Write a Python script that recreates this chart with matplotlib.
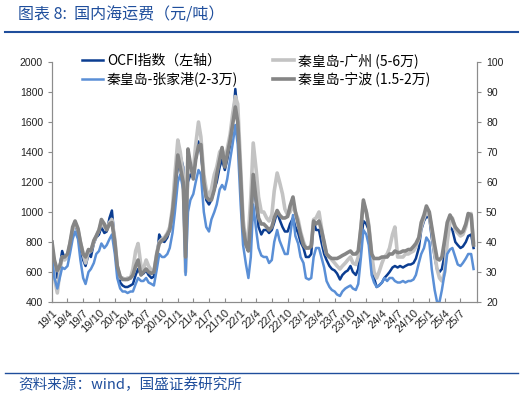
import matplotlib
matplotlib.use('Agg')
import matplotlib.pyplot as plt
from matplotlib.lines import Line2D
import pandas as pd

plt.rcParams['font.family'] = ['Noto Sans CJK SC', 'DejaVu Sans']

# 半月数据，2019/1 - 2025/9
dates = pd.date_range('2019-01-01', periods=162, freq='SMS')

# OCFI指数（左轴，点）
ocfi = [800, 620, 560, 640, 740, 690, 700, 790, 880, 920, 860, 760, 680, 640, 720, 700,
        790, 830, 850, 900, 860, 870, 960, 1010, 800, 640, 530, 510, 500, 500, 510, 520,
        580, 620, 580, 590, 610, 580, 560, 570, 700, 850, 810, 800, 830, 880, 980, 1150,
        1300, 1380, 1300, 700, 1200, 1250, 1230, 1350, 1470, 1400, 1200, 1080, 1050, 1080, 1150, 1200,
        1300, 1350, 1280, 1350, 1450, 1580, 1820, 1650, 1250, 900, 780, 760, 900, 1250, 1050, 900,
        850, 880, 880, 860, 880, 930, 1000, 950, 900, 870, 870, 920, 960, 900, 860, 800,
        760, 700, 700, 720, 940, 880, 880, 800, 720, 680, 640, 620, 610, 590, 550, 580,
        600, 610, 640, 600, 580, 620, 800, 940, 920, 880, 700, 560, 500, 510, 530, 560,
        580, 600, 630, 640, 630, 640, 630, 640, 650, 650, 660, 690, 760, 880, 940, 970,
        960, 830, 700, 620, 600, 620, 720, 850, 900, 880, 800, 780, 760, 770, 800, 840,
        850, 760]

# 右轴（元/吨）
gz = [39, 28, 23, 30, 35, 34, 35, 39.5, 44, 46.5, 44, 40, 36, 33, 37, 37,
      40, 42, 44, 46.5, 45, 44.5, 46.5, 47.5, 41, 32, 28, 28, 27.5, 28, 28, 31,
      37, 39.5, 32, 31, 34, 32, 30.5, 30, 36.5, 40, 41, 41.5, 43, 45, 51.5, 62.5,
      74, 70, 62.5, 30, 67.5, 65, 64, 72.5, 80, 75, 62.5, 57.5, 55, 57.5, 62.5, 65,
      70, 71, 67.5, 71, 76, 82.5, 88.5, 86, 65, 47.5, 40, 42.5, 55, 73, 64, 55,
      50, 50, 48, 47, 49, 57, 63, 60, 56, 51, 49, 50, 52, 50, 47.5, 43.5,
      40, 38, 38, 39, 47.5, 48, 50, 45, 39, 36, 35, 34, 33, 32, 31, 32,
      33, 34, 35, 33, 32.5, 35, 45, 53, 50, 46, 36, 30, 28, 30, 33, 35,
      36, 38, 42.5, 45, 35, 35, 35, 36, 36, 36.5, 37, 38.5, 41, 45, 48, 50,
      49, 44, 36, 31, 28, 27, 30, 40, 46.5, 48, 44, 43, 42, 42.5, 45, 49,
      49.5, 40]

zjg = [35, 28, 24.5, 28, 31.5, 31, 32, 36, 41, 43.5, 41, 34, 28, 26, 30, 31,
       33, 36, 37, 39.5, 38, 39, 41, 42.5, 36, 28, 24.5, 23.5, 23.5, 23, 23.5, 23.5,
       26, 28, 27, 27, 28, 26.5, 26, 25.5, 31, 36, 35, 35, 36, 38, 43, 50,
       60, 62.5, 57.5, 29, 50, 54, 56, 60, 64, 62.5, 50, 45, 43.5, 47.5, 50, 52.5,
       57.5, 59, 57.5, 61, 67.5, 72.5, 79, 72.5, 52.5, 39, 32.5, 28, 35, 52.5, 44, 38,
       35.5, 35, 35, 33, 34, 40, 44, 40.5, 38, 36, 36, 42, 49, 42, 39.5, 35,
       33, 28, 27.5, 28, 35, 38, 38, 35, 31.5, 27, 25, 24, 23.5, 22.5, 22, 23.5,
       24.5, 25, 25.5, 24.5, 24, 26, 35, 44, 42.5, 39, 29, 26.5, 25, 25.5, 26.5, 28,
       27, 28, 28, 27, 26.5, 26.5, 27, 26.5, 27, 27, 27.5, 29, 33, 36, 38, 41.5,
       40, 31, 24, 20, 20, 24, 30, 36, 37.5, 38, 35, 32.5, 32, 33, 34.5, 36,
       36, 31]

nb = [40, 34, 30.5, 32, 35, 35, 36, 39.5, 45, 47, 44.5, 40, 36, 35, 37.5, 37,
      40.5, 42, 44, 47.5, 46, 44, 46, 46.5, 40, 32, 28.5, 27.5, 27.5, 27.5, 28, 29,
      32, 34, 29, 30, 31, 30, 29.5, 30, 36, 39.5, 40.5, 41, 42.5, 44, 50, 57.5,
      69, 65, 60, 35, 71, 66, 61, 67.5, 72, 72.5, 60, 55, 54, 54, 57.5, 62.5,
      67.5, 71.5, 65, 69, 74, 79, 85, 80, 61.5, 45, 39, 37, 47.5, 62.5, 54, 48,
      46, 46, 45, 44, 45, 48, 50.5, 49, 48, 48, 48.5, 52, 55, 50, 46, 42.5,
      39, 38, 38, 38.5, 47, 46, 47, 44, 40, 36, 35, 34.5, 34.5, 34.5, 35, 35.5,
      36, 36.5, 37, 36, 36, 37, 45, 54, 50, 45, 36, 34.5, 34.5, 34.5, 35, 35,
      35, 36, 36, 37, 36.5, 36.5, 37, 37, 37.5, 37.5, 38.5, 39.5, 41.5, 46.5, 49, 52,
      50, 45, 39, 34.5, 34, 35, 41, 46.5, 49, 47.5, 45, 44, 43, 43.5, 46, 49.5,
      49, 39]

blue = '#1F4E9C'
axis_gray = '#8C8C8C'

fig = plt.figure(figsize=(5.26, 3.98), dpi=100)
ax = fig.add_axes([52 / 526, 1 - 302 / 398, 425 / 526, 240 / 398])
ax2 = ax.twinx()

l_ocfi, = ax.plot(dates, ocfi, color='#0B3D91', lw=1.8)
l_gz, = ax2.plot(dates, gz, color='#C3C3C3', lw=2.6)
l_zjg, = ax2.plot(dates, zjg, color='#5A8FD6', lw=1.8)
l_nb, = ax2.plot(dates, nb, color='#858585', lw=2.6)

ax.set_ylim(400, 2000)
ax.set_yticks(range(400, 2001, 200))
ax2.set_ylim(20, 100)
ax2.set_yticks(range(20, 101, 10))

ticks = pd.date_range('2019-01-01', '2025-07-01', freq='QS')
ax.set_xticks(ticks)
ax.set_xticklabels([f'{d.year % 100}/{d.month}' for d in ticks], rotation=45,
                   ha='right', rotation_mode='anchor', fontsize=8)
ax.set_xlim(pd.Timestamp('2019-01-01'), pd.Timestamp('2025-10-05'))

for a in (ax, ax2):
    a.spines['top'].set_visible(False)
    for s in ('left', 'right', 'bottom'):
        a.spines[s].set_color(axis_gray)
    a.tick_params(colors=axis_gray, labelcolor='#222222', labelsize=7.5, length=3)
ax.tick_params(axis='x', direction='in', pad=4, labelsize=8)

for lab in ax.get_yticklabels() + ax2.get_yticklabels():
    lab.set_family(['Liberation Sans', 'DejaVu Sans'])
for lab in ax.get_xticklabels():
    lab.set_family(['Liberation Sans', 'DejaVu Sans'])

ax2.legend([l_ocfi, l_zjg, l_gz, l_nb],
           ['OCFI指数（左轴）', '秦皇岛-张家港(2-3万)', '秦皇岛-广州 (5-6万)', '秦皇岛-宁波 (1.5-2万)'],
           ncol=2, frameon=False, fontsize=10, loc='upper left',
           bbox_to_anchor=(82 / 526, 1 - 53 / 398), bbox_transform=fig.transFigure,
           borderaxespad=0, borderpad=0, handlelength=1.5, handletextpad=0.3,
           labelspacing=0.27, columnspacing=2.5)

fig.text(18 / 526, 1 - 15 / 398, '图表 8:  国内海运费（元/吨）', color=blue,
         fontsize=11.5, va='center', ha='left', style='italic')
fig.add_artist(Line2D([5 / 526, 518 / 526], [1 - 31.5 / 398] * 2, color=blue, lw=1.5))
fig.add_artist(Line2D([5 / 526, 518 / 526], [1 - 373 / 398] * 2, color=blue, lw=1.0))
fig.text(18 / 526, 1 - 385 / 398, '资料来源：wind，国盛证券研究所', color=blue,
         fontsize=10.5, va='center', ha='left', style='italic')

fig.savefig('out.png', dpi=100)
